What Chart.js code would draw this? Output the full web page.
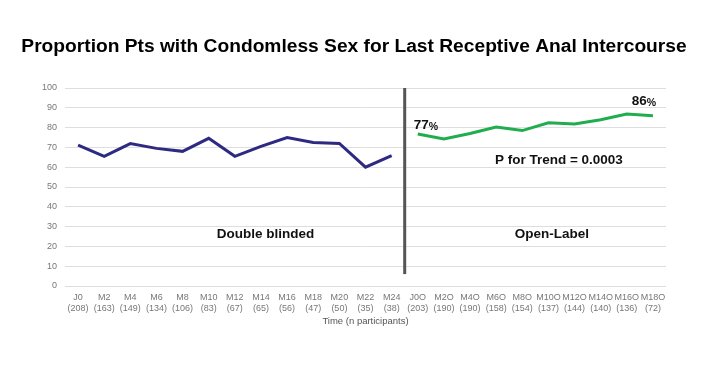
<!DOCTYPE html>
<html>
<head>
<meta charset="utf-8">
<script src="https://cdn.jsdelivr.net/npm/chart.js@4"></script>
<style>
  body { margin: 0; background: #fff; }
  #wrap { width: 708px; height: 368px; }
</style>
</head>
<body>
<div id="wrap"><canvas id="chart" width="708" height="368"></canvas></div>
<script>
var blindLabels = ["J0", "M2", "M4", "M6", "M8", "M10", "M12", "M14", "M16", "M18", "M20", "M22", "M24"];
var blindN = ["(208)", "(163)", "(149)", "(134)", "(106)", "(83)", "(67)", "(65)", "(56)", "(47)", "(50)", "(35)", "(38)"];
var blindValues = [71.2, 65.5, 71.9, 69.5, 68.0, 74.6, 65.5, 70.5, 75.0, 72.5, 72.0, 60.0, 65.9];

var openLabels = ["J0O", "M2O", "M4O", "M6O", "M8O", "M10O", "M12O", "M14O", "M16O", "M18O"];
var openN = ["(203)", "(190)", "(190)", "(158)", "(154)", "(137)", "(144)", "(140)", "(136)", "(72)"];
var openValues = [76.8, 74.3, 77.0, 80.3, 78.5, 82.4, 81.8, 84.0, 86.9, 86.0];

var yTicks = [0, 10, 20, 30, 40, 50, 60, 70, 80, 90, 100];

var titleText = "Proportion Pts with Condomless Sex for Last Receptive Anal Intercourse";

var labels = [];
for (var i = 0; i < blindLabels.length; i++) labels.push([blindLabels[i], blindN[i]]);
for (var j = 0; j < openLabels.length; j++) labels.push([openLabels[j], openN[j]]);

var blindSeries = blindValues.concat(openLabels.map(function () { return null; }));
var openSeries = blindLabels.map(function () { return null; }).concat(openValues);

var FONT = "Arial, Helvetica, 'Liberation Sans', sans-serif";

var notes = {
  id: "notes",
  afterDatasetsDraw: function (chart) {
    var ctx = chart.ctx;
    var x = chart.scales.x, y = chart.scales.y;
    var split = blindLabels.length;
    var sx = (x.getPixelForValue(split - 1) + x.getPixelForValue(split)) / 2;
    ctx.save();
    ctx.strokeStyle = "#555";
    ctx.lineWidth = 3;
    ctx.beginPath();
    ctx.moveTo(sx, y.getPixelForValue(100));
    ctx.lineTo(sx, y.getPixelForValue(6));
    ctx.stroke();

    // title drawn by hand so it is not squeezed into the padded box
    ctx.fillStyle = "#000";
    ctx.textAlign = "center";
    ctx.textBaseline = "alphabetic";
    ctx.font = "bold 19.2px " + FONT;
    ctx.fillText(titleText, chart.width / 2, 52);

    ctx.textBaseline = "middle";
    ctx.fillStyle = "#111";
    ctx.font = "bold 13.5px " + FONT;
    ctx.fillText("Double blinded", x.getPixelForValue(7.17), y.getPixelForValue(26.3));
    ctx.fillText("Open-Label", x.getPixelForValue(18.13), y.getPixelForValue(26.3));
    ctx.fillText("P for Trend = 0.0003", x.getPixelForValue(18.4), y.getPixelForValue(63.6));

    function pct(label, px, py) {
      ctx.textAlign = "left";
      ctx.font = "bold 13.5px " + FONT;
      ctx.fillText(label, px, py);
      var w = ctx.measureText(label).width;
      ctx.font = "bold 10.5px " + FONT;
      ctx.fillText("%", px + w, py + 1);
    }
    pct(String(Math.round(openValues[0])), x.getPixelForValue(split) - 4, y.getPixelForValue(81.0));
    pct(String(Math.round(openValues[openValues.length - 1])), x.getPixelForValue(split + 8) + 5, y.getPixelForValue(93.1));
    ctx.restore();
  }
};

new Chart("chart", {
  type: "line",
  data: {
    labels: labels,
    datasets: [{
      data: blindSeries,
      borderColor: "#2e2a82",
      borderWidth: 3,
      pointRadius: 0,
      tension: 0,
      spanGaps: false
    }, {
      data: openSeries,
      borderColor: "#20ad4e",
      borderWidth: 3,
      pointRadius: 0,
      tension: 0,
      spanGaps: false
    }]
  },
  options: {
    responsive: false,
    animation: false,
    layout: { padding: { left: 34, right: 42, top: 88, bottom: 37 } },
    plugins: {
      legend: { display: false },
      tooltip: { enabled: false },
      title: { display: false }
    },
    scales: {
      x: {
        offset: true,
        grid: { display: false },
        border: { display: false },
        ticks: {
          color: "#777",
          font: { family: FONT, size: 9 },
          maxRotation: 0,
          autoSkip: false,
          padding: -2
        },
        title: {
          display: true,
          text: "Time (n participants)",
          color: "#555",
          font: { family: FONT, size: 9.5 },
          padding: { top: 4 }
        }
      },
      y: {
        min: 0,
        max: 100,
        afterBuildTicks: function (axis) {
          axis.ticks = yTicks.map(function (v) { return { value: v }; });
        },
        grid: { color: "#dedede", drawTicks: false },
        border: { display: false },
        ticks: {
          color: "#777",
          font: { family: FONT, size: 9 },
          padding: 8
        }
      }
    }
  },
  plugins: [notes]
});
</script>
</body>
</html>
